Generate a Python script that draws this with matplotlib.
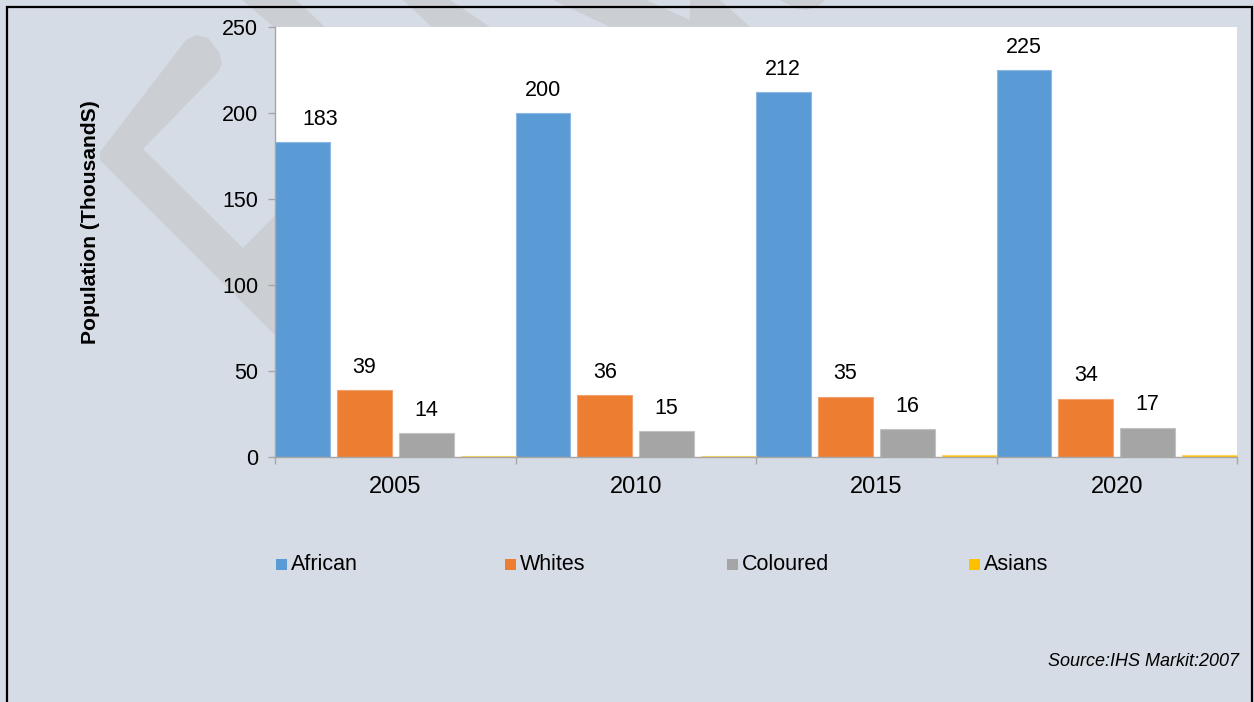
import matplotlib
matplotlib.use("Agg")
import matplotlib.pyplot as plt
import numpy as np
from matplotlib.patches import Polygon, Rectangle

# ---- data ----
years = ["2005", "2010", "2015", "2020"]
series_names = ["African", "Whites", "Coloured", "Asians"]
african = [183, 200, 212, 225]
whites = [39, 36, 35, 34]
coloured = [14, 15, 16, 17]
asians = [0.5, 0.8, 1.0, 1.2]
series_values = [african, whites, coloured, asians]
labelled = [True, True, True, False]
y_ticks = [0, 50, 100, 150, 200, 250]

colors = ["#5B9BD5", "#ED7D31", "#A5A5A5", "#FFC000"]
edge_colors = ["#8DB8E3", "#F3A271", "#C2C2C2", "#FFD55C"]

W, H = 1254, 702
plt.rcParams["font.family"] = ["Liberation Sans", "DejaVu Sans"]

fig = plt.figure(figsize=(W / 100, H / 100), dpi=100)
bg = "#D6DCE5"
fig.patch.set_facecolor(bg)


def px(x, y):
    return (x / W, 1 - y / H)


# faint chevron watermark behind the plot area
wm = "#CBCED3"
shapes = [
    [(100, 152), (186, 40), (196, 35), (208, 38), (219, 52), (222, 64), (218, 72),
     (143, 149), (243, 248), (300, 190), (300, 360), (100, 160)],
    [(242, 0), (296, 0), (325, 27), (274, 27)],
    [(403, 0), (450, 0), (490, 27), (432, 27)],
    [(553, 0), (720, 0), (750, 27), (610, 27)],
    [(780, 0), (825, 0), (818, 6), (806, 10), (795, 8)],
]
for pts in shapes:
    fig.patches.append(Polygon([px(*p) for p in pts], closed=True, facecolor=wm,
                               edgecolor="none", transform=fig.transFigure,
                               zorder=-2))
# lighter wedge inside the top band
fig.patches.append(Polygon([px(646, 0), px(690, 0), px(690, 20)], closed=True,
                           facecolor=bg, edgecolor="none",
                           transform=fig.transFigure, zorder=-1))

ax = fig.add_axes([275 / W, 1 - 457 / H, (1237 - 275) / W, (457 - 27) / H])
ax.set_facecolor("white")

# horizontal nudge (points) for the first African label, kept clear of the axis
label_dx = {(0, 0): 13}

n = len(series_names)
bar_w = 0.227
gap = (1 - n * bar_w) / (n - 1)
x = np.arange(len(years))
for i, (name, vals) in enumerate(zip(series_names, series_values)):
    offset = -0.5 + bar_w / 2 + i * (bar_w + gap)
    bars = ax.bar(x + offset, vals, width=bar_w, color=colors[i],
                  edgecolor=edge_colors[i], linewidth=0.8, label=name, zorder=2)
    if labelled[i]:
        for j, (b, v) in enumerate(zip(bars, vals)):
            ax.annotate(f"{v}", (b.get_x() + b.get_width() / 2, v),
                        xytext=(label_dx.get((i, j), 0), 16.5),
                        textcoords="offset points",
                        ha="center", va="center", fontsize=15.5, color="black")

ax.set_xlim(-0.5, len(years) - 0.5)
ax.set_ylim(0, 250)
ax.set_yticks(y_ticks)
ax.set_xticks(x)
ax.set_xticklabels(years)
ax.set_xticks(np.arange(len(years) + 1) - 0.5, minor=True)

axis_gray = "#A6A6A6"
for s in ["top", "right"]:
    ax.spines[s].set_visible(False)
for s in ["left", "bottom"]:
    ax.spines[s].set_color(axis_gray)
    ax.spines[s].set_linewidth(1.0)
    ax.spines[s].set_zorder(3)

ax.tick_params(axis="y", direction="out", length=5, width=1, color=axis_gray,
               pad=7, labelsize=15.5, labelcolor="black")
ax.tick_params(axis="x", which="major", length=0, pad=14, labelsize=17,
               labelcolor="black")
ax.tick_params(axis="x", which="minor", direction="out", length=5, width=1,
               color=axis_gray)

fig.text(*px(91, 222), "Population (ThousandS)", rotation=90, ha="center",
         va="center", fontsize=15.2, fontweight="bold", color="black")

# legend entries laid out across the row below the axis
legend_x = [276, 505, 727, 969]
legend_y = 564
for name, col, lx in zip(series_names, colors, legend_x):
    fig.patches.append(Rectangle(px(lx, legend_y + 5.5), 11 / W, 11 / H,
                                 facecolor=col, edgecolor="none",
                                 transform=fig.transFigure))
    fig.text(*px(lx + 15, legend_y), name, ha="left", va="center",
             fontsize=15.5, color="black")

fig.text(*px(1239, 662), "Source:IHS Markit:2007", ha="right", va="center",
         fontsize=13, style="italic", color="black")

# outer frame
fig.patches.append(Rectangle(px(7, 712), (1252 - 7) / W, (712 - 7) / H,
                             fill=False, edgecolor="black", linewidth=1.6,
                             transform=fig.transFigure, zorder=5))

fig.savefig("out.png", dpi=100, facecolor=fig.get_facecolor())
